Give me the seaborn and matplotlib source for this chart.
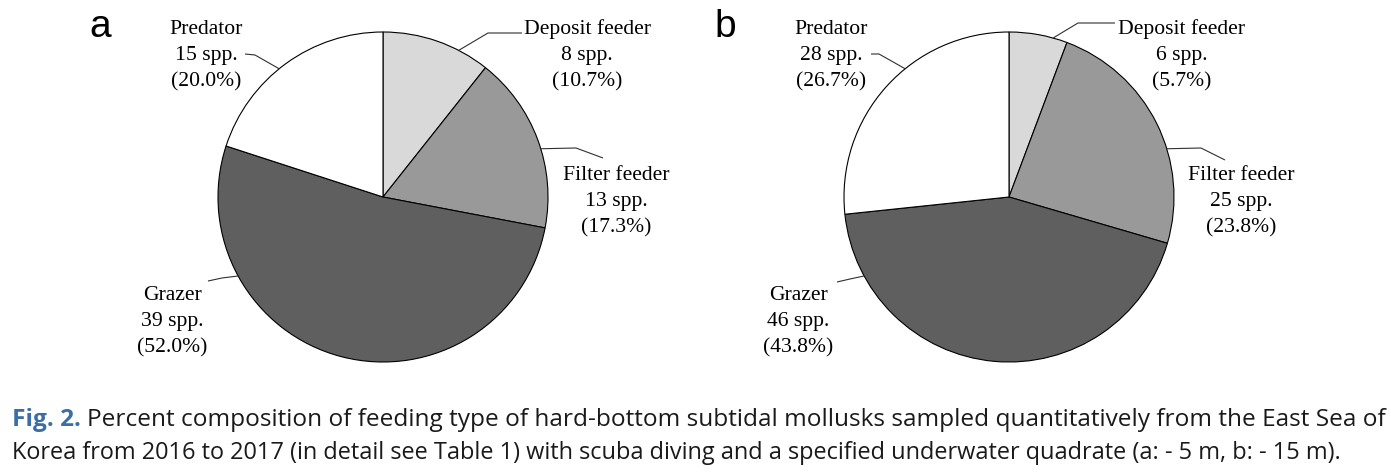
import numpy as np
import pandas as pd
import seaborn as sns
import matplotlib.pyplot as plt
from matplotlib import font_manager

# feeding types, clockwise from 12 o'clock
groups = ["Deposit feeder", "Filter feeder", "Grazer", "Predator"]
spp_a = [8, 13, 39, 15]
spp_b = [6, 25, 46, 28]
pct_a = [10.7, 17.3, 52.0, 20.0]
pct_b = [5.7, 23.8, 43.8, 26.7]
panel_names = ["a", "b"]
shades = ["#d9d9d9", "#999999", "#5f5f5f", "#ffffff"]

caption_head = "Fig. 2."
caption_line1 = "Percent composition of feeding type of hard-bottom subtidal mollusks sampled quantitatively from the East Sea of"
caption_line2 = ("Korea from 2016 to 2017 (in detail see Table 1) with scuba diving and a specified "
                 "underwater quadrate (a: - 5 m, b: - 15 m).")

sns.set_theme(style="white")
plt.rcParams["font.family"] = ["Liberation Serif", "DejaVu Serif"]

W, H = 1391, 472
R = 165  # pie radius in pixels
fig = plt.figure(figsize=(W / 100, H / 100), dpi=100)

# layout per panel (pixels, y measured from top)
panels = [
    dict(name="a", spp=spp_a, pct=pct_a, box=(0, 695), center=(383, 197), letter_x=100,
         text=[(587, 34), (616, 180), (172, 300), (206, 34)],
         leader=[(62.7, [(488, 33), (522, 33)]),
                 (17.0, [(576, 148), (603, 158)]),
                 (208.6, [(222, 278), (208, 281)]),
                 (129.0, [(255, 55), (245, 54)])]),
    dict(name="b", spp=spp_b, pct=pct_b, box=(695, W), center=(1009, 197), letter_x=725,
         text=[(1182, 34), (1241, 180), (798, 300), (831, 34)],
         leader=[(74.5, [(1078, 23), (1115, 23)]),
                 (17.0, [(1201, 148), (1225, 160)]),
                 (208.6, [(850, 279), (837, 282)]),
                 (129.0, [(879, 54), (871, 54)])]),
]

ax_top, ax_bot = 0, 390
for p in panels:
    x0, x1 = p["box"]
    cx, cy = p["center"]
    ax = fig.add_axes([x0 / W, 1 - ax_bot / H, (x1 - x0) / W, (ax_bot - ax_top) / H])
    df = pd.DataFrame({"group": groups, "spp": p["spp"], "pct": p["pct"]})
    ax.pie(df["spp"], colors=shades, startangle=90, counterclock=False, radius=1,
           wedgeprops=dict(edgecolor="black", linewidth=0.8))
    ax.set_aspect("auto")
    ax.set_xlim((x0 - cx) / R, (x1 - cx) / R)
    ax.set_ylim((cy - ax_bot) / R, (cy - ax_top) / R)
    ax.axis("off")

    def to_data(x, y):
        return (x - cx) / R, (cy - y) / R

    for (g, n, pc), (tx, ty), (ang, pts) in zip(df.itertuples(index=False), p["text"], p["leader"]):
        lines = [g, f"{n} spp.", f"({pc:.1f}%)"]
        for i, s in enumerate(lines):
            dx, dy = to_data(tx, ty + i * 26)
            ax.text(dx, dy, s, ha="center", va="baseline", fontsize=15.6, color="black")
        t = np.deg2rad(ang)
        xs = [np.cos(t)] + [to_data(*q)[0] for q in pts]
        ys = [np.sin(t)] + [to_data(*q)[1] for q in pts]
        ax.plot(xs, ys, color="#303030", linewidth=0.8, solid_capstyle="butt")

    fig.text(p["letter_x"] / W, 1 - 37 / H, p["name"], ha="center", va="baseline",
             fontsize=28, family=["Liberation Sans", "DejaVu Sans"], color="black")

# caption: a narrow sans if there is one, sized to span the page like the original
try:
    font_manager.findfont("Liberation Sans Narrow", fallback_to_default=False)
    cap_font = ["Liberation Sans Narrow", "DejaVu Sans"]
except ValueError:
    cap_font = ["Open Sans", "DejaVu Sans"]

renderer = fig.canvas.get_renderer()
x_left = 12


def caption_row(parts, ybase, x_right, size=15):
    arts = []
    x = x_left
    for txt, color, weight in parts:
        t = fig.text(x / W, 1 - ybase / H, txt, fontsize=size, family=cap_font,
                     fontweight=weight, color=color, va="baseline", ha="left")
        x = t.get_window_extent(renderer).x1 + 0.27 * size * 100 / 72
        arts.append(t)
    right = arts[-1].get_window_extent(renderer).x1
    new_size = size * (x_right - x_left) / (right - x_left)
    for t in arts:
        t.remove()
    x = x_left
    for txt, color, weight in parts:
        t = fig.text(x / W, 1 - ybase / H, txt, fontsize=new_size, family=cap_font,
                     fontweight=weight, color=color, va="baseline", ha="left")
        x = t.get_window_extent(renderer).x1 + 0.27 * new_size * 100 / 72


caption_row([(caption_head, "#3a6ea5", "bold"), (caption_line1, "#1a1a1a", "normal")], 426, 1382)
caption_row([(caption_line2, "#1a1a1a", "normal")], 459, 1337)

fig.savefig("out.png", dpi=100, facecolor="white")
